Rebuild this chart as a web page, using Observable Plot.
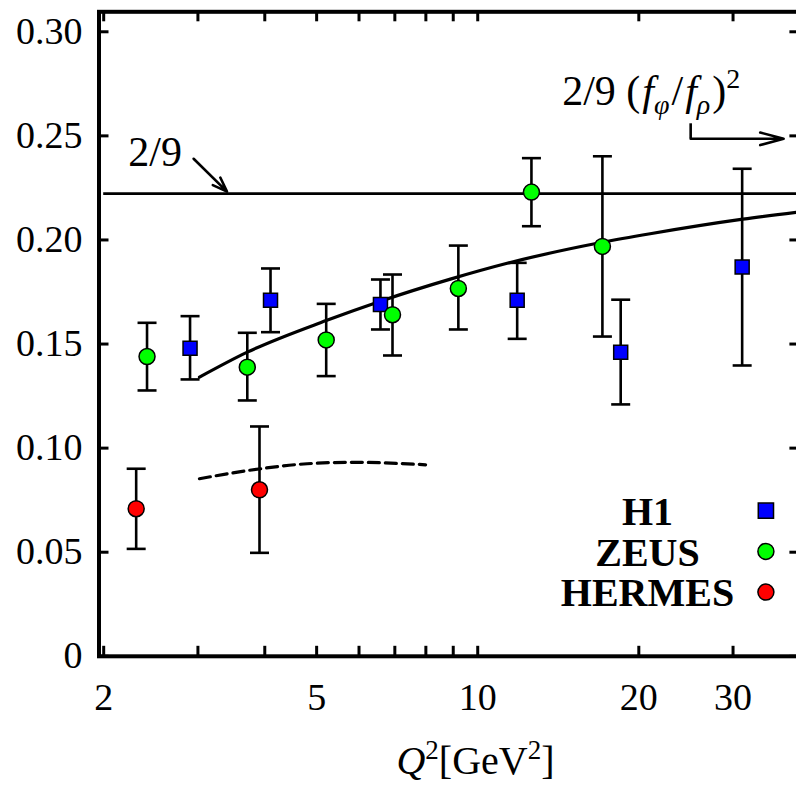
<!DOCTYPE html>
<html><head><meta charset="utf-8">
<script src="https://cdn.jsdelivr.net/npm/d3@7"></script>
<script src="https://cdn.jsdelivr.net/npm/@observablehq/plot@0.6"></script>
<style>
html,body{margin:0;padding:0;overflow:hidden;background:#fff;}
svg{max-width:none !important;}
</style></head><body><div id="chart"></div>
<script>
// ---- data ----
const h1Q2   = [2.90, 4.10, 6.58, 11.85, 18.5, 31.2];
const h1R    = [0.148, 0.171, 0.169, 0.171, 0.146, 0.187];
const h1Lo   = [0.133, 0.1557, 0.157, 0.1525, 0.121, 0.1397];
const h1Hi   = [0.1634, 0.1863, 0.181, 0.189, 0.1713, 0.2342];

const zeusQ2 = [2.41, 3.71, 5.21, 6.93, 9.20, 12.6, 17.1];
const zeusR  = [0.144, 0.1389, 0.152, 0.1641, 0.1767, 0.223, 0.1969];
const zeusLo = [0.1277, 0.1229, 0.1346, 0.1445, 0.157, 0.2066, 0.1536];
const zeusHi = [0.1602, 0.1554, 0.1693, 0.1834, 0.1973, 0.2393, 0.2402];

const hermesQ2 = [2.30, 3.91];
const hermesR  = [0.0709, 0.080];
const hermesLo = [0.0516, 0.0497];
const hermesHi = [0.0901, 0.1104];

const solidQ2 = [3.02, 3.71, 5.21, 6.58, 8.89, 11.35, 17.1, 21.0, 31.3, 40];
const solidR  = [0.1341, 0.1461, 0.1613, 0.1706, 0.1812, 0.1888, 0.1989, 0.2030, 0.2100, 0.2135];

const dashQ2 = [3.02, 3.93, 4.80, 5.86, 7.99];
const dashR  = [0.0853, 0.0901, 0.0925, 0.0932, 0.0920];

const asymptote = 2 / 9;
const asymptoteFrom = 2;
const asymptoteTo = 40;

const xTicks  = [2, 3, 4, 5, 6, 7, 8, 9, 10, 20, 30];
const xLabels = [2, 5, 10, 20, 30];
const yTicks  = [0, 0.05, 0.10, 0.15, 0.20, 0.25, 0.30];

const legendLabels = ["H1", "ZEUS", "HERMES"];
const xTitle = "Q2[GeV2]";
const note1 = {label: "2/9", x: 2.224, y: 0.2418};
const note1Arrow = {x1: 2.945, y1: 0.239, x2: 3.40, y2: 0.2232};
const note2 = {label: "2/9 (fphi/frho)2", x: 14.38, y: 0.2713};
const note2Bend = {x: 25, y1: 0.2558, y2: 0.2486, xEnd: 37.3};

// ---- tables ----
const mk = (q, r, lo, hi) => q.map((d, i) => ({q: d, r: r[i], lo: lo[i], hi: hi[i]}));
const h1 = mk(h1Q2, h1R, h1Lo, h1Hi);
const zeus = mk(zeusQ2, zeusR, zeusLo, zeusHi);
const hermes = mk(hermesQ2, hermesR, hermesLo, hermesHi);
const allPts = [...h1, ...zeus, ...hermes];
const solid = solidQ2.map((d, i) => ({q: d, r: solidR[i]}));
const dashed = dashQ2.map((d, i) => ({q: d, r: dashR[i]}));

// ---- layout ----
const W = 800, H = 785, ML = 98.5, MR = 0.6, MT = 11.3, MB = 129.2;
const PW = W - ML - MR, PH = H - MT - MB, TL = 10;
const FS = 38;

const capSymbol = {draw(ctx, size) { const w = Math.sqrt(size / Math.PI); ctx.moveTo(-w, 0); ctx.lineTo(w, 0); }};
const colors = {H1: "#0000ff", ZEUS: "#00ff00", HERMES: "#ff0000"};

const legendMarks = legendLabels.flatMap((lab, i) => {
  const dyRow = 500.4 + i * 40.7;
  return [
    Plot.text([lab], {frameAnchor: "top-right", lineAnchor: "middle", dx: -152.4, dy: dyRow, textAnchor: "middle", fontWeight: "bold", fontSize: 40, letterSpacing: 1.3}),
    Plot.dot([lab], {frameAnchor: "top-right", dx: -34, dy: dyRow - 1.5, symbol: lab === "H1" ? "square" : "circle",
      r: lab === "H1" ? 8.6 : 8, fill: colors[lab], stroke: "black", strokeWidth: 1.5})
  ];
});

const chart = Plot.plot({
  width: W, height: H,
  marginLeft: ML, marginRight: MR, marginTop: MT, marginBottom: MB,
  style: {fontFamily: "'Liberation Serif', 'DejaVu Serif', serif", background: "white", color: "black"},
  x: {type: "log", domain: [1.96, 40]},
  y: {domain: [0, 0.3096]},
  marks: [
    Plot.tickX(xTicks, {x: d => d, insetTop: PH - TL, strokeWidth: 3}),
    Plot.tickX(xTicks, {x: d => d, insetBottom: PH - TL, strokeWidth: 3}),
    Plot.tickY(yTicks, {y: d => d, insetRight: PW - TL, strokeWidth: 3}),
    Plot.tickY(yTicks, {y: d => d, insetLeft: PW - TL, strokeWidth: 3}),
    Plot.axisX(xLabels, {tickSize: 0, tickPadding: 27, fontSize: FS, label: null, tickFormat: d => String(d)}),
    Plot.axisY(yTicks, {tickSize: 0, tickPadding: 16.5, fontSize: FS, label: null, tickFormat: d => d === 0 ? "0" : d.toFixed(2)}),
    Plot.text([xTitle], {frameAnchor: "bottom", lineAnchor: "middle", dx: 26, dy: 105, fontSize: 40}),
    // theory lines
    Plot.ruleY([asymptote], {x1: asymptoteFrom, x2: asymptoteTo, strokeWidth: 2.8}),
    Plot.line(solid, {x: "q", y: "r", strokeWidth: 3.2, curve: "monotone-x"}),
    Plot.line(dashed, {x: "q", y: "r", strokeWidth: 3.2, strokeDasharray: "11,6", curve: "monotone-x"}),
    // annotations
    Plot.text([note1.label], {x: note1.x, y: note1.y, textAnchor: "start", fontSize: 42, letterSpacing: 1.5}),
    Plot.arrow([note1Arrow], {x1: "x1", y1: "y1", x2: "x2", y2: "y2", strokeWidth: 2.6, headLength: 14, headAngle: 40}),
    Plot.text([note2.label], {x: note2.x, y: note2.y, textAnchor: "start", fontSize: 42, letterSpacing: 1.5}),
    Plot.ruleX([note2Bend], {x: "x", y1: "y1", y2: "y2", strokeWidth: 2.6}),
    Plot.arrow([note2Bend], {x1: "x", y1: "y2", x2: "xEnd", y2: "y2", strokeWidth: 2.6, headLength: 14, headAngle: 30}),
    // error bars
    Plot.ruleX(allPts, {x: "q", y1: "lo", y2: "hi", strokeWidth: 2.6}),
    Plot.dot(allPts, {x: "q", y: "lo", symbol: capSymbol, r: 9.5, stroke: "black", strokeWidth: 2.6, fill: "none"}),
    Plot.dot(allPts, {x: "q", y: "hi", symbol: capSymbol, r: 9.5, stroke: "black", strokeWidth: 2.6, fill: "none"}),
    // markers
    Plot.dot(h1, {x: "q", y: "r", symbol: "square", r: 7.9, fill: colors.H1, stroke: "black", strokeWidth: 1.5}),
    Plot.dot(zeus, {x: "q", y: "r", symbol: "circle", r: 8, fill: colors.ZEUS, stroke: "black", strokeWidth: 1.5}),
    Plot.dot(hermes, {x: "q", y: "r", symbol: "circle", r: 8, fill: colors.HERMES, stroke: "black", strokeWidth: 1.5}),
    ...legendMarks,
    Plot.frame({strokeWidth: 4})
  ]
});

function rich(svg, placeholder, parts) {
  d3.select(svg).selectAll("text").filter(function () { return this.textContent === placeholder; }).each(function () {
    const t = d3.select(this);
    t.text(null);
    for (const p of parts) {
      const s = t.append("tspan").text(p.t);
      if (p.i) s.attr("font-style", "italic");
      if (p.s) s.attr("font-size", p.s);
      if (p.dy) s.attr("dy", p.dy);
      if (p.dx) s.attr("dx", p.dx);
    }
  });
}
rich(chart, xTitle, [
  {t: "Q", i: true}, {t: "2", s: "27px", dy: "-15"}, {t: "[GeV", dy: "15"}, {t: "2", s: "27px", dy: "-15"}, {t: "]", dy: "15"}
]);
rich(chart, note2.label, [
  {t: "2/9 ("}, {t: "f", i: true, dx: "2"}, {t: "φ", i: true, s: "28px", dy: "9"}, {t: "/", dy: "-9", dx: "2"},
  {t: "f", i: true, dx: "2"}, {t: "ρ", i: true, s: "28px", dy: "9"}, {t: ")", dy: "-9", dx: "2"}, {t: "2", s: "28px", dy: "-17"}
]);

document.getElementById("chart").appendChild(chart);
</script></body></html>
